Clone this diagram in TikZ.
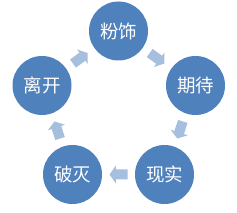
\documentclass[tikz,border=0pt]{standalone}
\usepackage{fontspec}
\newfontfamily\cjk{Noto Sans CJK SC}
\usetikzlibrary{calc}
\definecolor{circblue}{HTML}{4F81BD}
\definecolor{arrowblue}{HTML}{A7BFDE}
\begin{document}
\begin{tikzpicture}[x=1pt,y=1pt,
  stage/.style={circle, fill=circblue, draw=none, minimum size=59pt, inner sep=0pt,
    text=white, font=\cjk\fontsize{18.5}{18.5}\selectfont},
  cyc/.pic={\fill[arrowblue] (-9,-5) -- (2.6,-5) -- (2.6,-9) -- (9,0)
     -- (2.6,9) -- (2.6,5) -- (-9,5) -- cycle;}]
\useasboundingbox (0,0) rectangle (237,213);
\node[stage] (s1) at (118.5,182) {粉饰};
\node[stage] (s2) at (195.5,127.5) {期待};
\node[stage] (s3) at (164.5,38.5) {现实};
\node[stage] (s4) at (72.5,38.5) {破灭};
\node[stage] (s5) at (42,127.5) {离开};
\pic[rotate=-36] at ($(s1)!0.5!(s2)$) {cyc};
\pic[rotate=-108] at ($(s2)!0.5!(s3)$) {cyc};
\pic[rotate=180] at ($(s3)!0.5!(s4)$) {cyc};
\pic[rotate=108] at ($(s4)!0.5!(s5)$) {cyc};
\pic[rotate=36] at ($(s5)!0.5!(s1)$) {cyc};
\end{tikzpicture}
\end{document}
